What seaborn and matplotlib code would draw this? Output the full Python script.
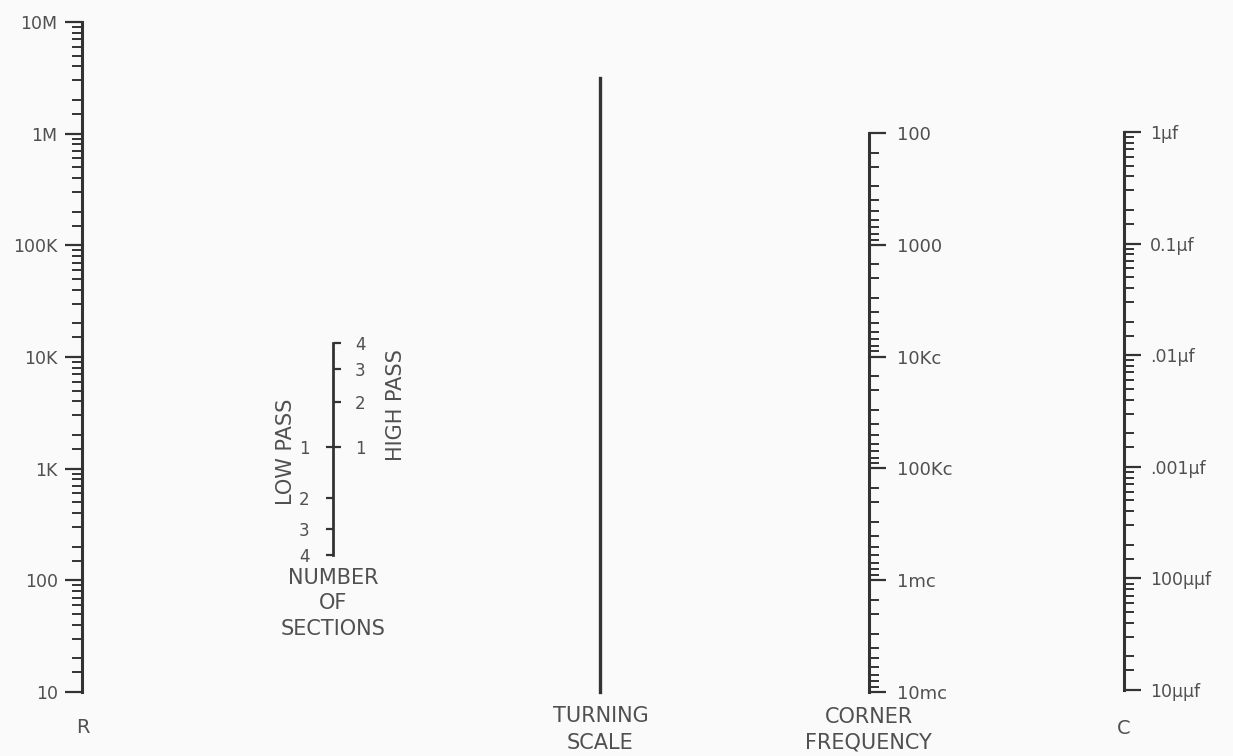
"""Nomogramme : R, nombre de sections, echelle pivot, frequence de coupure, C."""

import matplotlib
matplotlib.use("Agg")
import matplotlib.pyplot as plt
import seaborn as sns
from matplotlib.ticker import FixedLocator, FixedFormatter, NullFormatter

sns.set_theme(style="white")
plt.rcParams["font.family"] = ["DejaVu Sans"]

# --- donnees des echelles ---------------------------------------------------
R_DECADES = [10, 100, 1e3, 1e4, 1e5, 1e6, 1e7]
R_LABELS = ["10", "100", "1K", "10K", "100K", "1M", "10M"]

FREQ_DECADES = [1e2, 1e3, 1e4, 1e5, 1e6, 1e7]
FREQ_LABELS = ["100", "1000", "10Kc", "100Kc", "1mc", "10mc"]

C_DECADES = [1e-11, 1e-10, 1e-9, 1e-8, 1e-7, 1e-6]
C_LABELS = ["10µµf", "100µµf", ".001µf", ".01µf", "0.1µf", "1µf"]

MINOR_STEPS = [1.5, 2, 3, 4, 5, 6, 7, 8, 9]

SECTIONS = ["1", "2", "3", "4"]
HIGH_PASS_SHIFT = [0.0, 0.40, 0.70, 0.93]     # decades au-dessus de n=1
LOW_PASS_SHIFT = [0.0, -0.45, -0.73, -0.96]   # decades en dessous de n=1

LINE = "#333333"
TEXT = "#505050"
BG = "#fafafa"
TITLE_SIZE = 15

W, H = 1233, 756


def px_axes(fig, x, y_top, y_bot, w=1):
    ax = fig.add_axes([x / W, 1 - y_bot / H, w / W, (y_bot - y_top) / H])
    ax.set_facecolor("none")
    for s in ax.spines.values():
        s.set_visible(False)
    ax.set_xticks([])
    return ax


def log_scale(ax, decades, labels, side, inverted=False, size=12, pad=5):
    ax.set_yscale("log")
    lo, hi = decades[0], decades[-1]
    ax.set_ylim((hi, lo) if inverted else (lo, hi))
    ax.spines[side].set_visible(True)
    ax.spines[side].set_linewidth(2.2)
    ax.spines[side].set_color(LINE)
    ax.yaxis.set_ticks_position(side)
    ax.yaxis.set_label_position(side)
    ax.yaxis.set_major_locator(FixedLocator(decades))
    ax.yaxis.set_major_formatter(FixedFormatter(labels))
    minors = [d * m for d in decades[:-1] for m in MINOR_STEPS]
    ax.yaxis.set_minor_locator(FixedLocator(minors))
    ax.yaxis.set_minor_formatter(NullFormatter())
    ax.tick_params(axis="y", which="major", direction="out", length=12.5,
                   width=1.6, color=LINE, labelsize=size, labelcolor=TEXT,
                   pad=pad, left=(side == "left"), right=(side == "right"))
    ax.tick_params(axis="y", which="minor", direction="out", length=7,
                   width=1.4, color=LINE,
                   left=(side == "left"), right=(side == "right"))


fig = plt.figure(figsize=(W / 100, H / 100), dpi=100)
fig.patch.set_facecolor(BG)

# R
ax_r = px_axes(fig, 82, 22, 692)
log_scale(ax_r, R_DECADES, R_LABELS, "left", size=12.5, pad=5)
ax_r.set_xlabel("R", fontsize=14, color=TEXT, labelpad=19)

# nombre de sections
ax_lp = px_axes(fig, 333, 343, 555)
ax_lp.set_ylim(LOW_PASS_SHIFT[-1], HIGH_PASS_SHIFT[-1])
ax_lp.spines["left"].set_visible(True)
ax_lp.spines["left"].set_linewidth(2.0)
ax_lp.spines["left"].set_color(LINE)
ax_lp.yaxis.set_ticks_position("left")
ax_lp.set_yticks(LOW_PASS_SHIFT, SECTIONS)
ax_lp.tick_params(axis="y", direction="out", length=5, width=1.6, color=LINE,
                  labelsize=12, labelcolor=TEXT, pad=12, left=True)
ax_lp.set_ylabel("LOW PASS", fontsize=TITLE_SIZE, color=TEXT, labelpad=2)
ax_lp.yaxis.label.set_y(0.486)
ax_lp.set_xlabel("NUMBER\nOF\nSECTIONS", fontsize=TITLE_SIZE, color=TEXT,
                 labelpad=9, linespacing=1.35)

ax_hp = ax_lp.twinx()
ax_hp.set_facecolor("none")
for s in ax_hp.spines.values():
    s.set_visible(False)
ax_hp.set_ylim(ax_lp.get_ylim())
ax_hp.set_yticks(HIGH_PASS_SHIFT, SECTIONS)
ax_hp.tick_params(axis="y", direction="out", length=5, width=1.6, color=LINE,
                  labelsize=12, labelcolor=TEXT, pad=10, right=True)
ax_hp.set_ylabel("HIGH PASS", fontsize=TITLE_SIZE, color=TEXT, labelpad=15)
ax_hp.yaxis.label.set_y(0.708)

# echelle pivot
ax_t = px_axes(fig, 600, 78, 692)
ax_t.set_yticks([])
ax_t.spines["left"].set_visible(True)
ax_t.spines["left"].set_linewidth(2.4)
ax_t.spines["left"].set_color(LINE)
ax_t.set_xlabel("TURNING\nSCALE", fontsize=TITLE_SIZE, color=TEXT,
                labelpad=10, linespacing=1.45)

# frequence de coupure
ax_f = px_axes(fig, 869 - 1, 133, 692)
log_scale(ax_f, FREQ_DECADES, FREQ_LABELS, "right", inverted=True,
          size=13, pad=8)
ax_f.set_xlabel("CORNER\nFREQUENCY", fontsize=TITLE_SIZE, color=TEXT,
                labelpad=11, linespacing=1.3)

# C
ax_c = px_axes(fig, 1124 - 1, 132, 690)
log_scale(ax_c, C_DECADES, C_LABELS, "right", size=12.5, pad=6)
ax_c.set_xlabel("C", fontsize=14, color=TEXT, labelpad=21)

fig.savefig("out.png", dpi=100, facecolor=BG)
